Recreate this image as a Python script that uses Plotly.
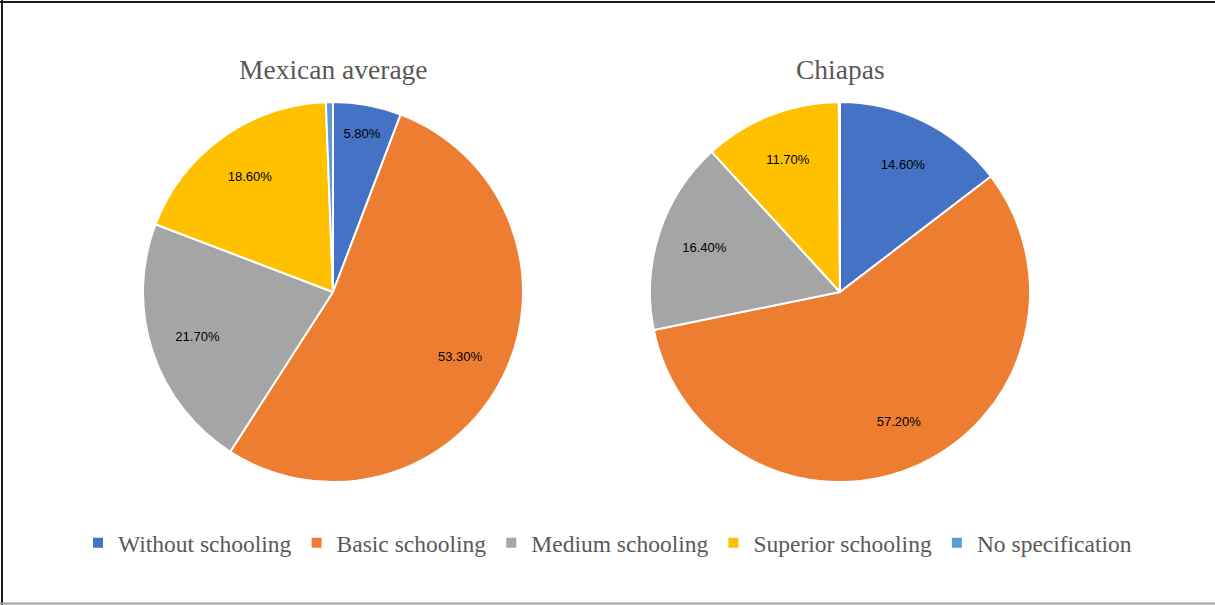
import plotly.graph_objects as go

categories = ["Without schooling", "Basic schooling", "Medium schooling", "Superior schooling", "No specification"]
mexican_values = [5.8, 53.3, 21.7, 18.6, 0.6]
chiapas_values = [14.6, 57.2, 16.4, 11.7, 0.1]
chart_titles = ["Mexican average", "Chiapas"]

colors = ["#4472C4", "#ED7D31", "#A5A5A5", "#FFC000", "#5B9BD5"]

W, H = 1215, 605


def labels_for(vals):
    return [f"{v:.2f}%" if c != "No specification" else "" for c, v in zip(categories, vals)]


def dom(cx, cy, r):
    return dict(x=[(cx - r) / W, (cx + r) / W], y=[1 - (cy + r) / H, 1 - (cy - r) / H])


fig = go.Figure()
for vals, (cx, cy) in [(mexican_values, (333, 292)), (chiapas_values, (840, 292))]:
    # coloured slices
    fig.add_trace(go.Pie(
        labels=categories,
        values=vals,
        textinfo="none",
        marker=dict(colors=colors, line=dict(color="white", width=2)),
        sort=False,
        direction="clockwise",
        rotation=0,
        domain=dom(cx, cy, 190),
        hoverinfo="label+value",
    ))
    # transparent ring carrying the percentage labels toward the outer part of each slice
    fig.add_trace(go.Pie(
        labels=categories,
        values=vals,
        text=labels_for(vals),
        textinfo="text",
        textposition="inside",
        insidetextorientation="horizontal",
        textfont=dict(family="Liberation Sans", size=13, color="black"),
        marker=dict(colors=["rgba(0,0,0,0)"] * len(categories), line=dict(width=0)),
        hole=0.5,
        sort=False,
        direction="clockwise",
        rotation=0,
        domain=dom(cx, cy, 190),
        hoverinfo="skip",
        showlegend=False,
    ))

for t, cx in zip(chart_titles, [333, 840]):
    fig.add_annotation(text=t, x=cx / W, y=1 - 69 / H, xref="paper", yref="paper",
                       showarrow=False, xanchor="center", yanchor="middle",
                       font=dict(family="Liberation Serif", size=27.5, color="#595959"))

# frame
fig.add_shape(type="line", xref="paper", yref="paper", x0=0, x1=1, y0=1 - 2 / H, y1=1 - 2 / H,
              line=dict(color="#1a1a1a", width=2))
fig.add_shape(type="line", xref="paper", yref="paper", x0=2 / W, x1=2 / W, y0=0, y1=1,
              line=dict(color="#1a1a1a", width=2))
fig.add_shape(type="line", xref="paper", yref="paper", x0=0, x1=1, y0=1.5 / H, y1=1.5 / H,
              line=dict(color="#a0a0a0", width=2))

fig.update_layout(
    width=W, height=H,
    margin=dict(l=0, r=0, t=0, b=0),
    paper_bgcolor="white",
    plot_bgcolor="white",
    showlegend=True,
    legend=dict(orientation="h", x=0.5, xanchor="center", y=1 - 543 / H, yanchor="middle",
                font=dict(family="Liberation Serif", size=23.5, color="#595959"),
                itemwidth=30, traceorder="normal"),
)

fig.write_html("out.html", config={"displayModeBar": False},
               post_script="document.body.style.margin='0';")
